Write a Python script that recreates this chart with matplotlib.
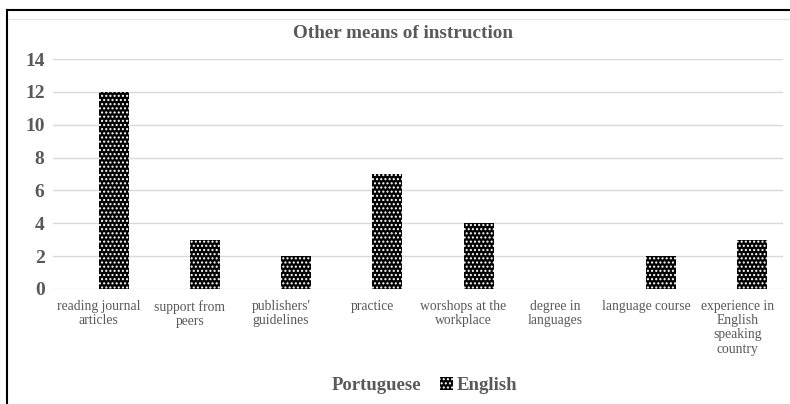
import numpy as np
import matplotlib.pyplot as plt
from matplotlib.lines import Line2D

plt.rcParams['font.family'] = ['Liberation Serif', 'DejaVu Serif']
plt.rcParams['hatch.linewidth'] = 1.0

# -------------------
# DATA
# -------------------
categories = [
    "reading journal\narticles",
    "support from\npeers",
    "publishers'\nguidelines",
    "practice",
    "worshops at the\nworkplace",
    "degree in\nlanguages",
    "language course",
    "experience in\nEnglish\nspeaking\ncountry",
]
portuguese = [0, 0, 0, 0, 0, 0, 0, 0]
english = [12, 3, 2, 7, 4, 0, 2, 3]
yticks = [0, 2, 4, 6, 8, 10, 12, 14]

gray = "#595959"

# -------------------
# PLOT
# -------------------
fig = plt.figure(figsize=(7.9, 4.04), dpi=100)
ax = fig.add_axes([0.067, 0.2847, 0.924, 0.569])

x = np.arange(len(categories))
w = 0.33
ax.bar(x - w / 2, portuguese, w, color="none", edgecolor="none", label="Portuguese")
ax.bar(x + w / 2, english, w, color="black", edgecolor="white", hatch="....",
       linewidth=0, label="English")

ax.set_xlim(-0.5, len(categories) - 0.5)
ax.set_ylim(0, 14)
ax.set_yticks(yticks)
ax.set_xticks(x)
ax.set_xticklabels(categories, fontsize=9.8, color=gray, linespacing=1.12)
ax.tick_params(axis="x", length=0, pad=8)
ax.tick_params(axis="y", length=0, pad=6, labelsize=14, labelcolor=gray)
for lbl in ax.get_yticklabels():
    lbl.set_fontweight("bold")

ax.grid(axis="y", color="#d9d9d9", linewidth=1)
ax.set_axisbelow(True)
for s in ax.spines.values():
    s.set_visible(False)

ax.set_title("Other means of instruction", fontsize=13.8, fontweight="bold",
             color=gray, pad=15, x=0.479)

leg = fig.legend(loc="center", bbox_to_anchor=(0.527, 0.045), ncol=2, frameon=False,
                 fontsize=13.5, handlelength=0.7, handleheight=0.7,
                 handletextpad=0.2, columnspacing=1.0)
for t in leg.get_texts():
    t.set_color(gray)
    t.set_fontweight("bold")

# page frame around the chart
fig.add_artist(Line2D([7 / 790, 1], [1 - 10 / 404, 1 - 10 / 404], color="black", lw=1.5))
fig.add_artist(Line2D([7 / 790, 7 / 790], [0, 1 - 10 / 404], color="black", lw=1.5))
fig.add_artist(Line2D([9 / 790, 1], [1 - 19 / 404, 1 - 19 / 404], color="#e6e6e6", lw=1))

fig.savefig("out.png", dpi=100)
